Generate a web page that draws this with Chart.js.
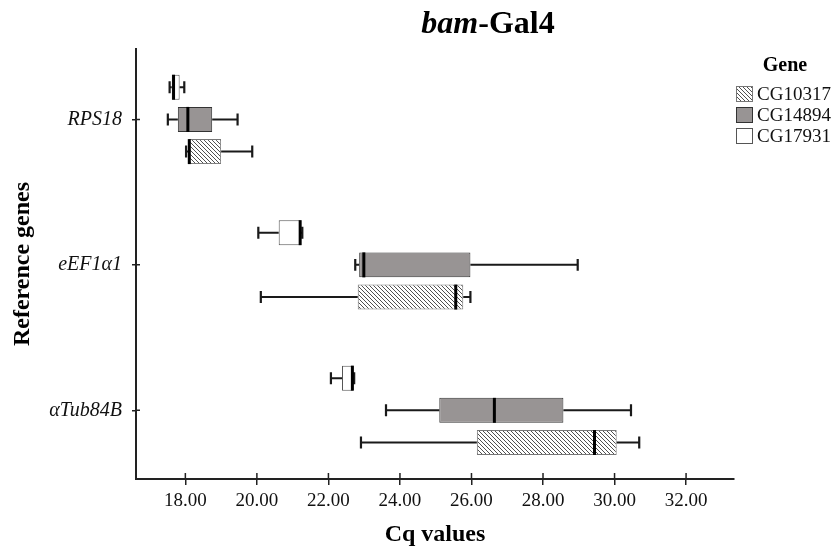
<!DOCTYPE html>
<html><head><meta charset="utf-8">
<script src="https://cdn.jsdelivr.net/npm/chart.js@4.4.1/dist/chart.umd.min.js"></script>
<style>html,body{margin:0;padding:0;background:#fff;}#wrap{width:838px;height:552px;position:relative;}</style>
</head><body><div id="wrap"><canvas id="c" width="838" height="552"></canvas></div>
<script>
// ---- data ----
const genes = ['RPS18', 'eEF1α1', 'αTub84B'];
const xTicks = [18, 20, 22, 24, 26, 28, 30, 32];
const seriesNames = ['CG17931', 'CG14894', 'CG10317'];

const cg17931Min = [17.56, 20.04, 22.07];
const cg17931Q1  = [17.62, 20.61, 22.38];
const cg17931Med = [17.67, 21.21, 22.67];
const cg17931Q3  = [17.84, 21.23, 22.70];
const cg17931Max = [17.97, 21.27, 22.72];

const cg14894Min = [17.51, 22.75, 23.61];
const cg14894Q1  = [17.79, 22.86, 25.10];
const cg14894Med = [18.07, 22.99, 26.64];
const cg14894Q3  = [18.75, 25.97, 28.57];
const cg14894Max = [19.46, 28.97, 30.46];

const cg10317Min = [18.02, 20.11, 22.91];
const cg10317Q1  = [18.10, 22.82, 26.15];
const cg10317Med = [18.11, 25.56, 29.44];
const cg10317Q3  = [19.00, 25.77, 30.06];
const cg10317Max = [19.87, 25.97, 30.69];

const boxStats = [
  {min: cg17931Min, q1: cg17931Q1, med: cg17931Med, q3: cg17931Q3, max: cg17931Max},
  {min: cg14894Min, q1: cg14894Q1, med: cg14894Med, q3: cg14894Q3, max: cg14894Max},
  {min: cg10317Min, q1: cg10317Q1, med: cg10317Med, q3: cg10317Q3, max: cg10317Max}
];

// ---- styles ----
function hatchPattern() {
  const c = document.createElement('canvas');
  c.width = 4; c.height = 4;
  const g = c.getContext('2d');
  g.fillStyle = '#fff'; g.fillRect(0, 0, 4, 4);
  g.strokeStyle = '#505050'; g.lineWidth = 1;
  g.beginPath();
  g.moveTo(-1, -1); g.lineTo(5, 5);
  g.moveTo(-1, 3); g.lineTo(1, 5);
  g.moveTo(3, -1); g.lineTo(5, 1);
  g.stroke();
  return g.createPattern(c, 'repeat');
}
const fills = ['#ffffff', '#989494', hatchPattern()];
const borders = ['#555555', '#333333', '#777777'];
const serif = '"Liberation Serif", "Times New Roman", serif';

const datasets = seriesNames.map((name, d) => ({
  label: name,
  data: genes.map((g, i) => ({y: i, x: [boxStats[d].q1[i], boxStats[d].q3[i]]})),
  backgroundColor: fills[d],
  borderColor: borders[d],
  borderWidth: 1,
  borderSkipped: false,
  categoryPercentage: 0.664,
  barPercentage: 0.776
}));

const boxPlugin = {
  id: 'boxWhiskers',
  afterDatasetsDraw(chart) {
    const ctx = chart.ctx, xs = chart.scales.x;
    chart.data.datasets.forEach((ds, d) => {
      const meta = chart.getDatasetMeta(d);
      const st = boxStats[d];
      meta.data.forEach((bar, i) => {
        const y = bar.y, h = bar.height;
        const pMin = xs.getPixelForValue(st.min[i]);
        const pQ1 = xs.getPixelForValue(st.q1[i]);
        const pQ3 = xs.getPixelForValue(st.q3[i]);
        const pMax = xs.getPixelForValue(st.max[i]);
        const pMed = xs.getPixelForValue(st.med[i]);
        ctx.save();
        ctx.strokeStyle = '#1a1a1a';
        ctx.lineWidth = 2;
        ctx.beginPath();
        ctx.moveTo(pMin, y); ctx.lineTo(pQ1, y);
        ctx.moveTo(pQ3, y); ctx.lineTo(pMax, y);
        ctx.stroke();
        const cap = h * 0.24;
        ctx.lineWidth = 2.2;
        ctx.beginPath();
        ctx.moveTo(pMin, y - cap); ctx.lineTo(pMin, y + cap);
        ctx.moveTo(pMax, y - cap); ctx.lineTo(pMax, y + cap);
        ctx.stroke();
        ctx.strokeStyle = '#000';
        ctx.lineWidth = 3;
        ctx.beginPath();
        ctx.moveTo(pMed, y - h / 2); ctx.lineTo(pMed, y + h / 2);
        ctx.stroke();
        ctx.restore();
      });
    });
  },
  afterDraw(chart) {
    const ctx = chart.ctx, xs = chart.scales.x, ys = chart.scales.y;
    const area = chart.chartArea;
    ctx.save();
    // inner halves of tick marks (ticks cross the axis)
    ctx.strokeStyle = '#222'; ctx.lineWidth = 1.5;
    ctx.beginPath();
    xs.ticks.forEach(t => { const p = xs.getPixelForValue(t.value); ctx.moveTo(p, area.bottom); ctx.lineTo(p, area.bottom - 6); });
    ys.ticks.forEach(t => { const p = ys.getPixelForValue(t.value); ctx.moveTo(area.left, p); ctx.lineTo(area.left + 4, p); });
    ctx.stroke();

    // title: bam-Gal4
    const f1 = 'italic bold 32px ' + serif, f2 = 'bold 32px ' + serif;
    ctx.font = f1; const w1 = ctx.measureText('bam').width;
    ctx.font = f2; const w2 = ctx.measureText('-Gal4').width;
    let x0 = 488 - (w1 + w2) / 2;
    ctx.fillStyle = '#000'; ctx.textBaseline = 'alphabetic'; ctx.textAlign = 'left';
    ctx.font = f1; ctx.fillText('bam', x0, 33);
    ctx.font = f2; ctx.fillText('-Gal4', x0 + w1, 33);

    // legend
    ctx.font = 'bold 20px ' + serif; ctx.textAlign = 'center';
    ctx.fillText('Gene', 785, 71);
    ctx.font = '19px ' + serif; ctx.textAlign = 'left'; ctx.textBaseline = 'middle';
    const order = [2, 1, 0];
    order.forEach((d, k) => {
      const ds = chart.data.datasets[d];
      const top = 86 + k * 21;
      ctx.fillStyle = ds.backgroundColor;
      ctx.fillRect(736, top, 17, 16);
      ctx.strokeStyle = ds.borderColor; ctx.lineWidth = 1;
      ctx.strokeRect(736.5, top + 0.5, 16, 15);
      ctx.fillStyle = '#111';
      ctx.fillText(ds.label, 757, top + 9);
    });
    ctx.restore();
  }
};

new Chart(document.getElementById('c'), {
  type: 'bar',
  data: {datasets},
  options: {
    indexAxis: 'y',
    responsive: false,
    animation: false,
    devicePixelRatio: 1,
    layout: {padding: {top: 49, right: 104, left: 0, bottom: 0}},
    plugins: {legend: {display: false}, title: {display: false}, tooltip: {enabled: false}},
    scales: {
      x: {
        type: 'linear', min: 16.62, max: 33.34, bounds: 'data', offset: false,
        afterBuildTicks: s => { s.ticks = xTicks.map(v => ({value: v})); },
        afterFit: s => { s.height = 73; },
        ticks: {callback: v => Number(v).toFixed(2), font: {family: serif, size: 19}, color: '#111', padding: 5, maxRotation: 0, autoSkip: false},
        grid: {drawOnChartArea: false, offset: false, tickLength: 6, color: '#222', lineWidth: 1.5},
        border: {color: '#222', width: 2},
        title: {display: true, text: 'Cq values', font: {family: serif, size: 24, weight: 'bold'}, color: '#000', padding: {top: 0, bottom: 3}}
      },
      y: {
        type: 'linear', reverse: true, min: -0.484, max: 2.472, bounds: 'data', offset: false,
        afterBuildTicks: s => { s.ticks = genes.map((g, i) => ({value: i})); },
        afterFit: s => { s.width = 136; },
        ticks: {callback: v => genes[v], font: {family: serif, size: 20, style: 'italic'}, color: '#111', padding: 10, autoSkip: false},
        grid: {drawOnChartArea: false, offset: false, tickLength: 4, color: '#222', lineWidth: 1.5},
        border: {color: '#222', width: 2},
        title: {display: true, text: 'Reference genes', font: {family: serif, size: 24, weight: 'bold'}, color: '#000', padding: {top: 8, bottom: 0}}
      }
    }
  },
  plugins: [boxPlugin]
});
</script>
</body></html>
